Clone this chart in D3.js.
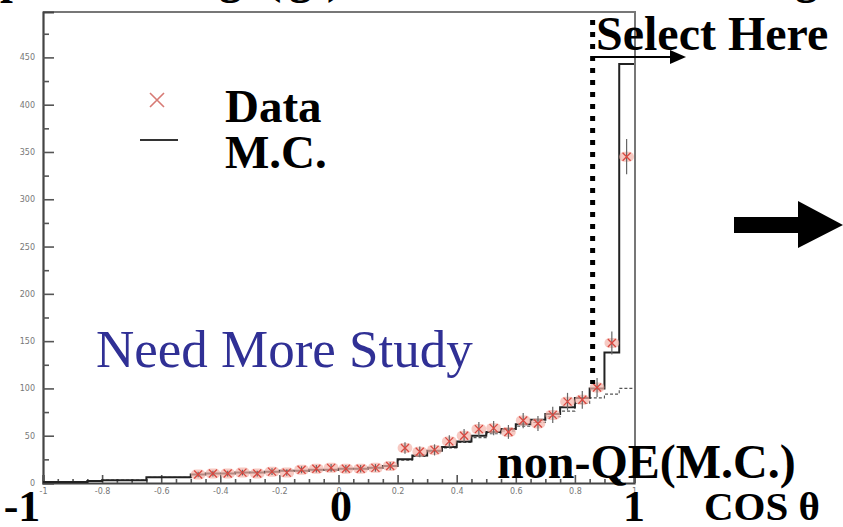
<!DOCTYPE html>
<html>
<head>
<meta charset="utf-8">
<script src="https://cdn.jsdelivr.net/npm/d3@7"></script>
<style>
  html, body { margin: 0; padding: 0; background: #fff; }
  svg { display: block; }
</style>
</head>
<body>
<svg id="chart" width="843" height="527"></svg>
<script>
// ---------- data ----------
const binEdgesStart = -1, binWidth = 0.05;
const mcValues = [1,1,1,2,3,3,3,6,6,6,9,10,10,11,11,12,13,13,14,14,15,15,16,18,25,29,34,38,44,50,54,57,62,67,73,80,90,100,138,443];
const nonQEValues = [1,1,1,2,3,3,3,6,6,6,9,10,10,11,11,12,13,13,14,14,15,15,16,18,24,28,33,37,43,48,52,55,60,64,70,76,84,90,94,100];
const dataStartIndex = 10; // data begins at cos = -0.5
const dataValues = [9,10,10,11,10,12,11,14,15,16,15,15,16,18,37,33,35,44,50,57,58,54,66,63,72,86,88,101,148,345];
const dataErrors = [3,3,3,3,3,3.5,3.3,3.7,3.9,4,3.9,3.9,4,4.2,6,5.7,5.9,6.6,7,7.5,7.6,7.3,8.1,7.9,8.5,9.3,9.4,10,12.2,18.6];
const yTicks = [0,50,100,150,200,250,300,350,400,450];
const yMinorTicks = [25,75,125,175,225,275,325,375,425,475];
const xTicks = [-1,-0.8,-0.6,-0.4,-0.2,0,0.2,0.4,0.6,0.8,1];
const xTickLabels = ["-1","-0.8","-0.6","-0.4","-0.2","0","0.2","0.4","0.6","0.8","1"];
const xMinorTicks = [-0.95,-0.9,-0.85,-0.75,-0.7,-0.65,-0.55,-0.5,-0.45,-0.35,-0.3,-0.25,-0.15,-0.1,-0.05,0.05,0.1,0.15,0.25,0.3,0.35,0.45,0.5,0.55,0.65,0.7,0.75,0.85,0.9,0.95];
const selectCut = 0.86;

// ---------- layout ----------
const svg = d3.select("#chart");
const x = d3.scaleLinear().domain([-1, 1]).range([43, 634]);
const y = d3.scaleLinear().domain([0, 498]).range([483, 12]);

// cut-off slide title (only descenders visible)
const titleParts = [["p",0],["g",219],["(",266],["g",289],[")",327],["g",795]];
svg.selectAll("text.title").data(titleParts).enter().append("text")
  .attr("x", d => d[1]).attr("y", -7)
  .attr("font-family", "Liberation Serif, Times New Roman, serif")
  .attr("font-weight", "bold").attr("font-size", 46).attr("fill", "#000")
  .text(d => d[0]);

// frame (top and right)
svg.append("path")
  .attr("d", `M${x(-1)},${y(498)} L${x(1)+1},${y(498)} L${x(1)+1},${y(0)}`)
  .attr("fill", "none").attr("stroke", "#777").attr("stroke-width", 2);

// axes
const gy = svg.append("g").attr("transform", `translate(${x(-1)},0)`)
  .call(d3.axisLeft(y).tickValues(yTicks).tickSize(-11).tickPadding(8).tickFormat(d3.format("d")));
const gyMinor = svg.append("g").attr("transform", `translate(${x(-1)},0)`)
  .call(d3.axisLeft(y).tickValues(yMinorTicks).tickSize(-6).tickFormat(""));
const gx = svg.append("g").attr("transform", `translate(0,${y(0)})`)
  .call(d3.axisBottom(x).tickValues(xTicks).tickSize(-8).tickPadding(5).tickFormat((d,i) => xTickLabels[i]));
const gxMinor = svg.append("g").attr("transform", `translate(0,${y(0)})`)
  .call(d3.axisBottom(x).tickValues(xMinorTicks).tickSize(-4).tickFormat(""));
[gy, gyMinor, gx, gxMinor].forEach(g => {
  g.select(".domain").attr("stroke", "#444").attr("stroke-width", 2.2);
  g.selectAll(".tick line").attr("stroke", "#555").attr("stroke-width", 1.6);
  g.selectAll(".tick text").attr("fill", "#777").attr("font-size", 8)
    .attr("font-family", "DejaVu Sans, sans-serif");
});
gyMinor.select(".domain").remove();
gxMinor.select(".domain").remove();

// step path helper
function stepPath(values, startIdx) {
  let p = "";
  values.forEach((v, i) => {
    const x0 = x(binEdgesStart + (startIdx + i) * binWidth);
    const x1 = x(binEdgesStart + (startIdx + i + 1) * binWidth);
    p += (i === 0 ? `M${x0},${y(v)}` : `L${x0},${y(v)}`) + `L${x1},${y(v)}`;
  });
  return p;
}

// non-QE dashed histogram
svg.append("path").attr("d", stepPath(nonQEValues, 0))
  .attr("fill", "none").attr("stroke", "#555").attr("stroke-width", 1.1)
  .attr("stroke-dasharray", "3,2");

// data points: pink halo, error bar, red cross
const dg = svg.append("g");
const pts = dataValues.map((v, i) => ({
  c: binEdgesStart + (dataStartIndex + i + 0.5) * binWidth, v: v, e: dataErrors[i]
}));
dg.selectAll("rect.halo").data(pts).enter().append("rect")
  .attr("x", d => x(d.c - binWidth/2)).attr("width", x(binWidth) - x(0))
  .attr("y", d => y(d.v) - 5).attr("height", 10)
  .attr("rx", 5).attr("fill", "#f3b3aa").attr("opacity", 0.7);
dg.selectAll("line.err").data(pts).enter().append("line")
  .attr("x1", d => x(d.c)).attr("x2", d => x(d.c))
  .attr("y1", d => y(d.v + d.e)).attr("y2", d => y(d.v - d.e))
  .attr("stroke", "#666").attr("stroke-width", 1.2);

// MC histogram
svg.append("path").attr("d", stepPath(mcValues, 0))
  .attr("fill", "none").attr("stroke", "#222").attr("stroke-width", 2);

dg.raise();
dg.selectAll("path.cross").data(pts).enter().append("path")
  .attr("d", d => { const cx = x(d.c), cy = y(d.v), s = 4;
    return `M${cx-s},${cy-s}L${cx+s},${cy+s}M${cx-s},${cy+s}L${cx+s},${cy-s}`; })
  .attr("stroke", "#d9473f").attr("stroke-width", 1.3).attr("fill", "none");

// legend
svg.append("path").attr("d", "M150,93L164,107M150,107L164,93")
  .attr("stroke", "#d77a74").attr("stroke-width", 1.6);
svg.append("line").attr("x1", 140).attr("x2", 178).attr("y1", 140).attr("y2", 140)
  .attr("stroke", "#333").attr("stroke-width", 2);
const bold = sel => sel.attr("font-family", "Liberation Serif, Times New Roman, serif")
  .attr("font-weight", "bold").attr("fill", "#000");
bold(svg.append("text").attr("x", 225).attr("y", 122).attr("font-size", 47).text("Data"));
bold(svg.append("text").attr("x", 225).attr("y", 168).attr("font-size", 47).text("M.C."));

// Need More Study
svg.append("text").attr("x", 96).attr("y", 367)
  .attr("font-family", "Liberation Serif, Times New Roman, serif")
  .attr("font-size", 53).attr("fill", "#303095").text("Need More Study");

// selection line and arrow
const sx = x(selectCut);
svg.append("line").attr("x1", sx).attr("x2", sx).attr("y1", 20).attr("y2", 384)
  .attr("stroke", "#000").attr("stroke-width", 5).attr("stroke-dasharray", "5,7");
svg.append("line").attr("x1", sx).attr("x2", 672).attr("y1", 57).attr("y2", 57)
  .attr("stroke", "#000").attr("stroke-width", 2);
svg.append("path").attr("d", "M670,50L686,57L670,64Z").attr("fill", "#000");
bold(svg.append("text").attr("x", 596).attr("y", 50).attr("font-size", 48).text("Select Here"));

// non-QE label and bottom labels
bold(svg.append("text").attr("x", 497).attr("y", 478).attr("font-size", 48).text("non-QE(M.C.)"));
bold(svg.append("text").attr("x", 22).attr("y", 521).attr("font-size", 44).attr("text-anchor", "middle").text("-1"));
bold(svg.append("text").attr("x", 341).attr("y", 521).attr("font-size", 44).attr("text-anchor", "middle").text("0"));
bold(svg.append("text").attr("x", 634).attr("y", 521).attr("font-size", 44).attr("text-anchor", "middle").text("1"));
bold(svg.append("text").attr("x", 704).attr("y", 520).attr("font-size", 41).text("COS θ"));

// big right arrow
svg.append("path").attr("d", "M734,217L798,217L798,201L843,225L798,248L798,233L734,233Z").attr("fill", "#000");
</script>
</body>
</html>
